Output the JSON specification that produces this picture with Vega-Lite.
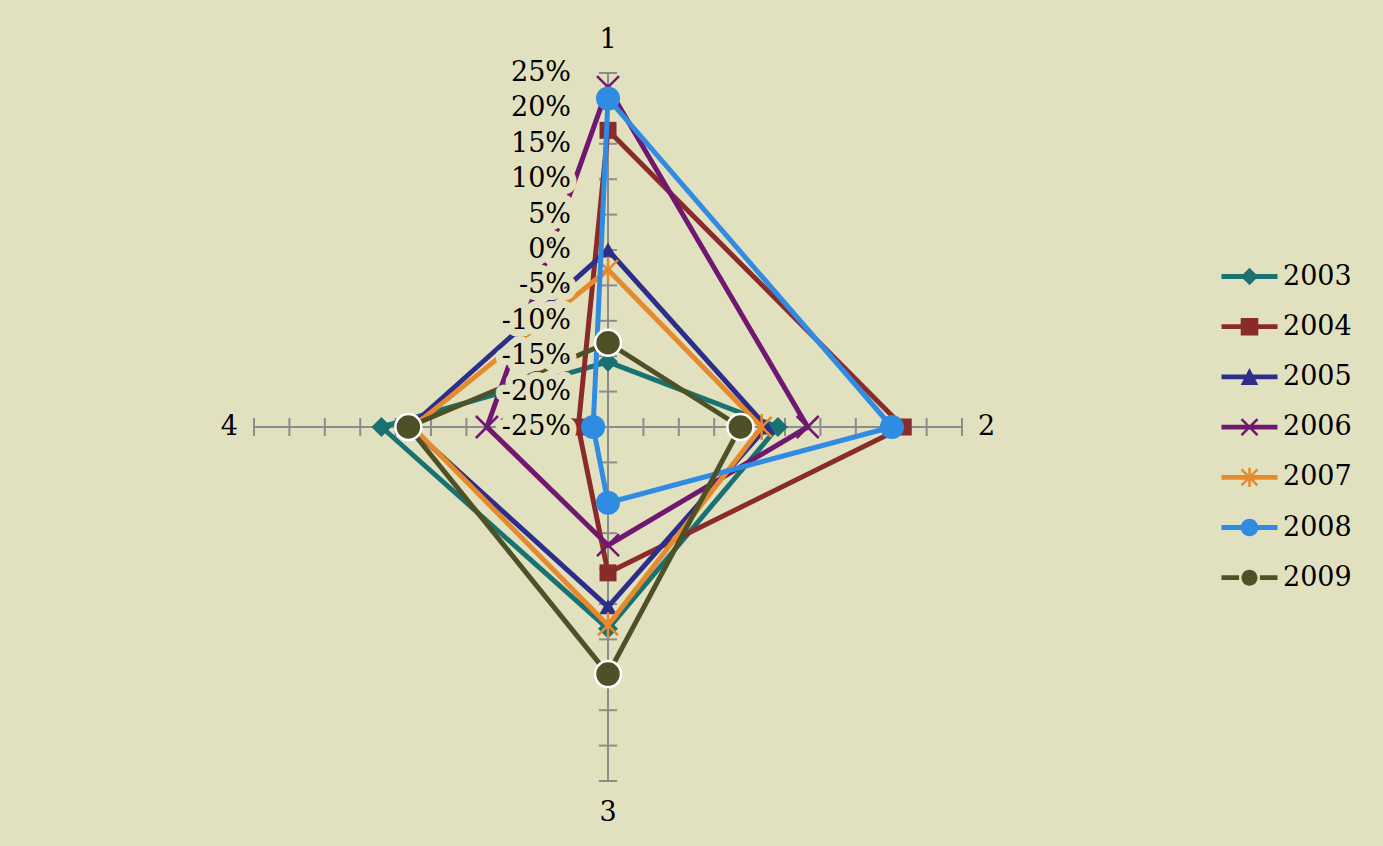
{
  "$schema": "https://vega.github.io/schema/vega-lite/v6.json",
  "width": 1383,
  "height": 846,
  "padding": 0,
  "autosize": {"type": "none"},
  "background": "#E1E1C0",
  "config": {"view": {"stroke": null}, "font": "DejaVu Serif"},
  "datasets": {
    "series": [
      {"year": "2003", "axis": 1, "value": -15.8}, {"year": "2003", "axis": 2, "value": -1.0}, {"year": "2003", "axis": 3, "value": 3.5}, {"year": "2003", "axis": 4, "value": 7.0},
      {"year": "2004", "axis": 1, "value": 16.9}, {"year": "2004", "axis": 2, "value": 16.7}, {"year": "2004", "axis": 3, "value": -4.4}, {"year": "2004", "axis": 4, "value": -20.8},
      {"year": "2005", "axis": 1, "value": 0.0}, {"year": "2005", "axis": 2, "value": -2.6}, {"year": "2005", "axis": 3, "value": 0.4}, {"year": "2005", "axis": 4, "value": 3.0},
      {"year": "2006", "axis": 1, "value": 23.0}, {"year": "2006", "axis": 2, "value": 3.2}, {"year": "2006", "axis": 3, "value": -8.3}, {"year": "2006", "axis": 4, "value": -7.9},
      {"year": "2007", "axis": 1, "value": -2.8}, {"year": "2007", "axis": 2, "value": -3.3}, {"year": "2007", "axis": 3, "value": 3.0}, {"year": "2007", "axis": 4, "value": 2.6},
      {"year": "2008", "axis": 1, "value": 21.4}, {"year": "2008", "axis": 2, "value": 15.1}, {"year": "2008", "axis": 3, "value": -14.3}, {"year": "2008", "axis": 4, "value": -22.9},
      {"year": "2009", "axis": 1, "value": -13.1}, {"year": "2009", "axis": 2, "value": -6.3}, {"year": "2009", "axis": 3, "value": 9.9}, {"year": "2009", "axis": 4, "value": 3.2}
    ],
    "ticks": [
      {"value": -25, "axes": [1, 2, 3, 4]}, {"value": -20, "axes": [1, 2, 3, 4]}, {"value": -15, "axes": [1, 2, 3, 4]},
      {"value": -10, "axes": [1, 2, 3, 4]}, {"value": -5, "axes": [1, 2, 3, 4]}, {"value": 0, "axes": [1, 2, 3, 4]},
      {"value": 5, "axes": [1, 2, 3, 4]}, {"value": 10, "axes": [1, 2, 3, 4]}, {"value": 15, "axes": [1, 2, 3, 4]},
      {"value": 20, "axes": [1, 2, 3, 4]}, {"value": 25, "axes": [1, 2, 3, 4]}
    ],
    "labels": [
      {"label": "25%", "value": 25}, {"label": "20%", "value": 20}, {"label": "15%", "value": 15},
      {"label": "10%", "value": 10}, {"label": "5%", "value": 5}, {"label": "0%", "value": 0},
      {"label": "-5%", "value": -5}, {"label": "-10%", "value": -10}, {"label": "-15%", "value": -15},
      {"label": "-20%", "value": -20}, {"label": "-25%", "value": -25}
    ],
    "ends": [
      {"label": "1", "axis": 1, "value": 25}, {"label": "2", "axis": 2, "value": 25},
      {"label": "3", "axis": 3, "value": 25}, {"label": "4", "axis": 4, "value": 25}
    ]
  },
  "encoding": {
    "x": {"field": "px", "type": "quantitative", "scale": {"domain": [-85.876, 109.46], "nice": false, "zero": false}, "axis": null},
    "y": {"field": "py", "type": "quantitative", "scale": {"domain": [-59.18, 60.31], "nice": false, "zero": false}, "axis": null}
  },
  "resolve": {
    "scale": {"color": "independent", "shape": "independent"},
    "legend": {"color": "independent", "shape": "independent"}
  },
  "layer": [
    {
      "data": {"name": "ticks"},
      "transform": [
        {"flatten": ["axes"], "as": ["axis"]},
        {"calculate": "datum.value+25", "as": "r"},
        {"calculate": "datum.axis==2?datum.r:(datum.axis==4?-datum.r:0)", "as": "px"},
        {"calculate": "datum.axis==1?datum.r:(datum.axis==3?-datum.r:0)", "as": "py"}
      ],
      "layer": [
        {
          "transform": [{"filter": "datum.axis==1||datum.axis==3"}],
          "mark": {"type": "line", "color": "#8C8C8C", "strokeWidth": 2},
          "encoding": {"order": {"field": "py", "type": "quantitative"}}
        },
        {
          "transform": [{"filter": "datum.axis==2||datum.axis==4"}],
          "mark": {"type": "line", "color": "#8C8C8C", "strokeWidth": 2},
          "encoding": {"order": {"field": "px", "type": "quantitative"}}
        },
        {
          "transform": [{"filter": "datum.axis==1||datum.axis==3"}],
          "mark": {"type": "point", "shape": "M-1,0L1,0", "size": 324, "filled": false, "stroke": "#8C8C8C", "strokeWidth": 2, "opacity": 1}
        },
        {
          "transform": [{"filter": "datum.axis==2||datum.axis==4"}],
          "mark": {"type": "point", "shape": "M0,-1L0,1", "size": 324, "filled": false, "stroke": "#8C8C8C", "strokeWidth": 2, "opacity": 1}
        }
      ]
    },
    {
      "data": {"name": "series"},
      "transform": [
        {"calculate": "datum.value+25", "as": "r"},
        {"calculate": "datum.axis==2?datum.r:(datum.axis==4?-datum.r:0)", "as": "px"},
        {"calculate": "datum.axis==1?datum.r:(datum.axis==3?-datum.r:0)", "as": "py"}
      ],
      "encoding": {
        "color": {"field": "year", "type": "nominal", "legend": null,
          "scale": {"domain": ["2003", "2004", "2005", "2006", "2007", "2008", "2009"],
                    "range": ["#187272", "#8A2B2B", "#2D2D8A", "#701870", "#E68A2E", "#308CE2", "#4E5026"]}},
        "order": {"field": "axis", "type": "quantitative"}
      },
      "layer": [
        {"transform": [{"filter": "datum.year=='2003'"}], "mark": {"type": "line", "interpolate": "linear-closed", "strokeWidth": 5, "strokeJoin": "round"}},
        {"transform": [{"filter": "datum.year=='2003'"}], "mark": {"type": "point", "shape": "diamond", "size": 400, "filled": true, "opacity": 1}},
        {"transform": [{"filter": "datum.year=='2004'"}], "mark": {"type": "line", "interpolate": "linear-closed", "strokeWidth": 5, "strokeJoin": "round"}},
        {"transform": [{"filter": "datum.year=='2004'"}], "mark": {"type": "point", "shape": "square", "size": 289, "filled": true, "opacity": 1}},
        {"transform": [{"filter": "datum.year=='2005'"}], "mark": {"type": "line", "interpolate": "linear-closed", "strokeWidth": 5, "strokeJoin": "round"}},
        {"transform": [{"filter": "datum.year=='2005'"}], "mark": {"type": "point", "shape": "triangle-up", "size": 300, "filled": true, "opacity": 1}},
        {"transform": [{"filter": "datum.year=='2006'"}], "mark": {"type": "line", "interpolate": "linear-closed", "strokeWidth": 5, "strokeJoin": "round"}},
        {"transform": [{"filter": "datum.year=='2006'"}], "mark": {"type": "point", "shape": "M-1,-1L1,1M-1,1L1,-1", "size": 484, "filled": false, "strokeWidth": 2.5, "opacity": 1}},
        {"transform": [{"filter": "datum.year=='2007'"}], "mark": {"type": "line", "interpolate": "linear-closed", "strokeWidth": 5, "strokeJoin": "round"}},
        {"transform": [{"filter": "datum.year=='2007'"}], "mark": {"type": "point", "shape": "M-1,-1L1,1M-1,1L1,-1M0,-1.3L0,1.3", "size": 400, "filled": false, "strokeWidth": 2.5, "opacity": 1}},
        {"transform": [{"filter": "datum.year=='2008'"}], "mark": {"type": "line", "interpolate": "linear-closed", "strokeWidth": 5, "strokeJoin": "round"}},
        {"transform": [{"filter": "datum.year=='2008'"}], "mark": {"type": "point", "shape": "circle", "size": 576, "filled": true, "opacity": 1}},
        {"transform": [{"filter": "datum.year=='2009'"}], "mark": {"type": "line", "interpolate": "linear-closed", "strokeWidth": 5, "strokeJoin": "round"}},
        {"transform": [{"filter": "datum.year=='2009'"}], "mark": {"type": "point", "shape": "circle", "size": 676, "filled": true, "stroke": "white", "strokeWidth": 2.5, "opacity": 1}}
      ]
    },
    {
      "data": {"name": "series"},
      "transform": [{"filter": "false"}],
      "mark": {"type": "point", "filled": true, "opacity": 1},
      "encoding": {
        "color": {
          "field": "year",
          "type": "nominal",
          "scale": {"domain": [2003, 2004, 2005, 2006, 2007, 2008, 2009],
                    "range": ["#187272", "#8A2B2B", "#2D2D8A", "#701870", "#E68A2E", "#308CE2", "#4E5026"]},
          "legend": {
            "orient": "none", "legendX": 1236, "legendY": 263, "title": null, "padding": 0,
            "symbolSize": 256, "symbolStrokeWidth": 0, "labelFont": "DejaVu Serif", "labelFontSize": 27, "labelColor": "#000000",
            "labelOffset": 20, "rowPadding": 22.2
          }
        },
        "shape": {
          "field": "year",
          "type": "nominal",
          "scale": {
            "domain": [2003, 2004, 2005, 2006, 2007, 2008, 2009],
            "range": [
              "M-3.5,-0.3H3.5V0.3H-3.5ZM0,-1.1L1.1,0L0,1.1L-1.1,0Z",
              "M-3.5,-0.3H3.5V0.3H-3.5ZM-1.1,-1.1H1.1V1.1H-1.1Z",
              "M-3.5,-0.3H3.5V0.3H-3.5ZM0,-1.1L1.1,1L-1.1,1Z",
              "M-3.5,-0.3H3.5V0.3H-3.5ZM-0.887,-1.113L1.113,0.887L0.887,1.113L-1.113,-0.887ZM-1.113,0.887L0.887,-1.113L1.113,-0.887L-0.887,1.113Z",
              "M-3.5,-0.3H3.5V0.3H-3.5ZM-0.887,-1.113L1.113,0.887L0.887,1.113L-1.113,-0.887ZM-1.113,0.887L0.887,-1.113L1.113,-0.887L-0.887,1.113ZM-0.16,-1.2H0.16V1.2H-0.16Z",
              "M-3.5,-0.3H3.5V0.3H-3.5ZM-1.1,0A1.1,1.1 0 1,1 1.1,0A1.1,1.1 0 1,1 -1.1,0Z",
              "M-3.5,-0.3H-1.3V0.3H-3.5ZM1.3,-0.3H3.5V0.3H1.3ZM-1,0A1,1 0 1,1 1,0A1,1 0 1,1 -1,0Z"
            ]
          },
          "legend": {
            "orient": "none", "legendX": 1236, "legendY": 263, "title": null, "padding": 0,
            "symbolSize": 256, "symbolStrokeWidth": 0, "labelFont": "DejaVu Serif", "labelFontSize": 27, "labelColor": "#000000",
            "labelOffset": 20, "rowPadding": 22.2
          }
        }
      }
    },
    {
      "data": {"name": "labels"},
      "transform": [
        {"calculate": "datum.value+25", "as": "py"},
        {"calculate": "0", "as": "px"}
      ],
      "layer": [
        {
          "mark": {"type": "text", "align": "right", "baseline": "middle", "dx": -37, "fontSize": 27, "font": "DejaVu Serif",
                   "fill": "#E1E1C0", "stroke": "#E1E1C0", "strokeWidth": 14, "strokeJoin": "round"},
          "encoding": {"text": {"field": "label", "type": "nominal"}}
        },
        {
          "mark": {"type": "text", "align": "right", "baseline": "middle", "dx": -37, "fontSize": 27, "font": "DejaVu Serif", "fill": "#000000"},
          "encoding": {"text": {"field": "label", "type": "nominal"}}
        }
      ]
    },
    {
      "data": {"name": "ends"},
      "transform": [
        {"calculate": "datum.value+25", "as": "r"},
        {"calculate": "datum.axis==2?datum.r:(datum.axis==4?-datum.r:0)", "as": "px"},
        {"calculate": "datum.axis==1?datum.r:(datum.axis==3?-datum.r:0)", "as": "py"}
      ],
      "encoding": {"text": {"field": "label", "type": "nominal"}},
      "layer": [
        {"transform": [{"filter": "datum.axis==1"}],
         "mark": {"type": "text", "align": "center", "baseline": "middle", "dy": -33, "fontSize": 27, "font": "DejaVu Serif", "fill": "#000000"}},
        {"transform": [{"filter": "datum.axis==2"}],
         "mark": {"type": "text", "align": "left", "baseline": "middle", "dx": 16, "fontSize": 27, "font": "DejaVu Serif", "fill": "#000000"}},
        {"transform": [{"filter": "datum.axis==3"}],
         "mark": {"type": "text", "align": "center", "baseline": "middle", "dy": 32, "fontSize": 27, "font": "DejaVu Serif", "fill": "#000000"}},
        {"transform": [{"filter": "datum.axis==4"}],
         "mark": {"type": "text", "align": "right", "baseline": "middle", "dx": -16, "fontSize": 27, "font": "DejaVu Serif", "fill": "#000000"}}
      ]
    }
  ]
}
